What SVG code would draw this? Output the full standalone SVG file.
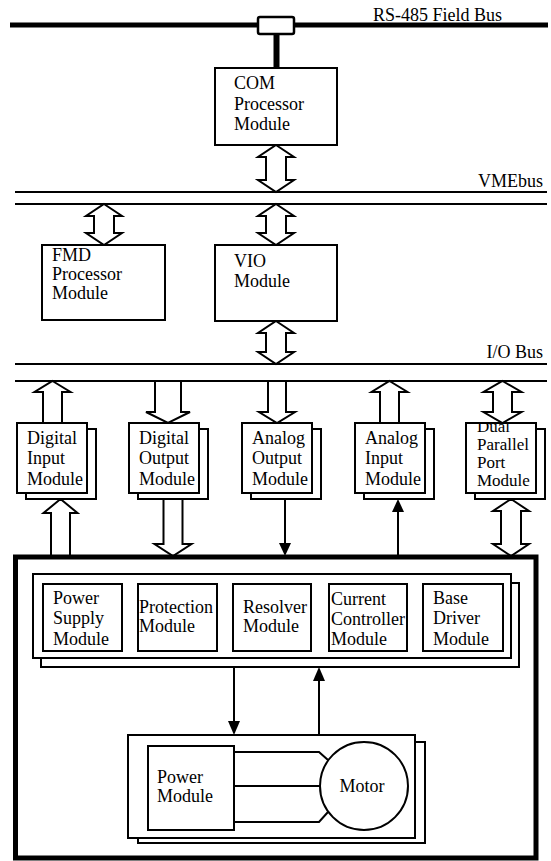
<svg xmlns="http://www.w3.org/2000/svg" width="551" height="861" viewBox="0 0 551 861">
<style>
text{font-family:"Liberation Serif","Times New Roman",serif;font-size:18px;fill:#000}
.sm{font-size:17px}
.box{fill:#fff;stroke:#000;stroke-width:2}
.sh{fill:#fff;stroke:#000;stroke-width:2}
.bus{stroke:#000;stroke-width:2;fill:none}
.ha{fill:#fff;stroke:#000;stroke-width:2;stroke-linejoin:miter}
.ln{stroke:#000;stroke-width:2;fill:none}
.fh{fill:#000;stroke:none}
</style>
<defs>
<clipPath id="dpClip"><rect x="466" y="424" width="70" height="68"/></clipPath>
</defs>
<rect width="551" height="861" fill="#fff"/>

<g id="buses">
<line x1="10" y1="25" x2="548" y2="25" stroke="#000" stroke-width="5"/>
<text x="373" y="21">RS-485 Field Bus</text>
<line class="bus" x1="15" y1="192" x2="547" y2="192"/>
<line class="bus" x1="15" y1="204" x2="547" y2="204"/>
<text x="543" y="187" text-anchor="end">VMEbus</text>
<line class="bus" x1="15" y1="364" x2="547" y2="364"/>
<line class="bus" x1="15" y1="381" x2="547" y2="381"/>
<text x="543" y="358" text-anchor="end">I/O Bus</text>
</g>

<g id="connectors">
<line x1="276.5" y1="33" x2="276.5" y2="69" stroke="#000" stroke-width="6"/>
<polygon class="ha" points="276,145 294,157 286,157 286,180 294,180 276,192 258,180 266,180 266,157 258,157"/>
<polygon class="ha" points="104,204 122,216 114,216 114,233 122,233 104,245 86,233 94,233 94,216 86,216"/>
<polygon class="ha" points="276,204 294,216 286,216 286,233 294,233 276,245 258,233 266,233 266,216 258,216"/>
<polygon class="ha" points="276,321 294,333 286,333 286,352 294,352 276,364 258,352 266,352 266,333 258,333"/>
<polygon class="ha" points="52.5,381 70.5,392 62,392 62,423 43,423 43,392 34.5,392"/>
<polygon class="ha" points="155,381 181,381 181,412 190,412 168,423 146,412 155,412"/>
<polygon class="ha" points="268,381 286,381 286,412 295,412 277,423 259,412 268,412"/>
<polygon class="ha" points="389.5,381 407.5,392 399,392 399,423 380,423 380,392 371.5,392"/>
<polygon class="ha" points="502.5,381 521.5,392 512,392 512,412 521.5,412 502.5,423 483.5,412 493,412 493,392 483.5,392"/>
<polygon class="ha" points="60.5,499 77.5,513 70,513 70,556 51,556 51,513 43.5,513"/>
<polygon class="ha" points="163.5,499 182.5,499 182.5,544 191.5,544 173,556 154.5,544 163.5,544"/>
<line class="ln" x1="285" y1="499" x2="285" y2="546"/>
<polygon class="fh" points="279,543 291,543 285,556"/>
<line class="ln" x1="398" y1="556" x2="398" y2="510"/>
<polygon class="fh" points="392,512 404,512 398,499"/>
<polygon class="ha" points="511,499 529,511 521,511 521,544 529,544 511,556 493,544 501,544 501,511 493,511"/>
<line class="ln" x1="234" y1="667" x2="234" y2="724"/>
<polygon class="fh" points="228,721 240,721 234,735"/>
<line class="ln" x1="319" y1="735" x2="319" y2="679"/>
<polygon class="fh" points="313,681 325,681 319,667"/>
</g>

<g id="fieldbus-tap">
<rect x="258" y="17" width="36" height="17" rx="2" fill="#fff" stroke="#000" stroke-width="2.5"/>
</g>

<g id="com">
<rect class="box" x="215" y="68" width="122" height="77"/>
<text x="234" y="89">COM</text>
<text x="234" y="110">Processor</text>
<text x="234" y="130">Module</text>
</g>

<g id="fmd">
<rect class="box" x="42" y="245" width="123" height="75"/>
<text x="52" y="261">FMD</text>
<text x="52" y="280">Processor</text>
<text x="52" y="299">Module</text>
</g>

<g id="vio">
<rect class="box" x="215" y="245" width="122" height="76"/>
<text x="234" y="267">VIO</text>
<text x="234" y="287">Module</text>
</g>

<g id="digital-input">
<rect class="sh" x="26" y="429" width="70" height="70"/>
<rect class="box" x="17" y="423" width="70" height="70"/>
<text x="27" y="444">Digital</text>
<text x="27" y="464">Input</text>
<text x="27" y="485">Module</text>
</g>

<g id="digital-output">
<rect class="sh" x="138" y="429" width="70" height="70"/>
<rect class="box" x="129" y="423" width="70" height="70"/>
<text x="139" y="444">Digital</text>
<text x="139" y="464">Output</text>
<text x="139" y="485">Module</text>
</g>

<g id="analog-output">
<rect class="sh" x="251" y="429" width="70" height="70"/>
<rect class="box" x="242" y="423" width="70" height="70"/>
<text x="252" y="444">Analog</text>
<text x="252" y="464">Output</text>
<text x="252" y="485">Module</text>
</g>

<g id="analog-input">
<rect class="sh" x="364" y="429" width="70" height="70"/>
<rect class="box" x="355" y="423" width="70" height="70"/>
<text x="365" y="444">Analog</text>
<text x="365" y="464">Input</text>
<text x="365" y="485">Module</text>
</g>

<g id="dual-parallel-port">
<rect class="sh" x="475" y="429" width="70" height="70"/>
<rect class="box" x="466" y="423" width="70" height="70"/>
<g clip-path="url(#dpClip)">
<text class="sm" x="477" y="432">Dual</text>
<text class="sm" x="477" y="450">Parallel</text>
<text class="sm" x="477" y="468">Port</text>
<text class="sm" x="477" y="486">Module</text>
</g>
</g>

<g id="drive-unit">
<rect x="15.5" y="557" width="520.5" height="301" fill="none" stroke="#000" stroke-width="5"/>
</g>

<g id="control-board">
<rect class="sh" x="41" y="583" width="478" height="84" stroke-width="2.5"/>
<rect class="box" x="33" y="574" width="478" height="84" stroke-width="3"/>
</g>

<g id="power-supply">
<rect class="box" x="43" y="584" width="79" height="67"/>
<text x="53" y="604">Power</text>
<text x="53" y="624">Supply</text>
<text x="53" y="645">Module</text>
</g>

<g id="protection">
<rect class="box" x="138" y="584" width="79" height="67"/>
<text x="139" y="613">Protection</text>
<text x="139" y="632">Module</text>
</g>

<g id="resolver">
<rect class="box" x="233" y="584" width="78" height="67"/>
<text x="243" y="613">Resolver</text>
<text x="243" y="632">Module</text>
</g>

<g id="current-controller">
<rect class="box" x="329" y="584" width="78" height="67"/>
<text x="331" y="605">Current</text>
<text x="331" y="625">Controller</text>
<text x="331" y="645">Module</text>
</g>

<g id="base-driver">
<rect class="box" x="423" y="584" width="80" height="67"/>
<text x="433" y="604">Base</text>
<text x="433" y="624">Driver</text>
<text x="433" y="645">Module</text>
</g>

<g id="power-stage">
<rect class="sh" x="138" y="742" width="287" height="101" stroke-width="2.5"/>
<rect class="box" x="128" y="735" width="287" height="103" stroke-width="3"/>
</g>

<g id="power-module">
<rect class="box" x="148" y="746" width="86" height="84"/>
<text x="157" y="783">Power</text>
<text x="157" y="802">Module</text>
</g>

<g id="motor-lines">
<polyline class="ln" points="234,752 319,752 328,760"/>
<line class="ln" x1="234" y1="786" x2="320" y2="786"/>
<polyline class="ln" points="234,822 319,822 328,812"/>
</g>

<g id="motor">
<circle cx="364" cy="786" r="44" fill="#fff" stroke="#000" stroke-width="2"/>
<text x="362" y="792" text-anchor="middle">Motor</text>
</g>
</svg>
